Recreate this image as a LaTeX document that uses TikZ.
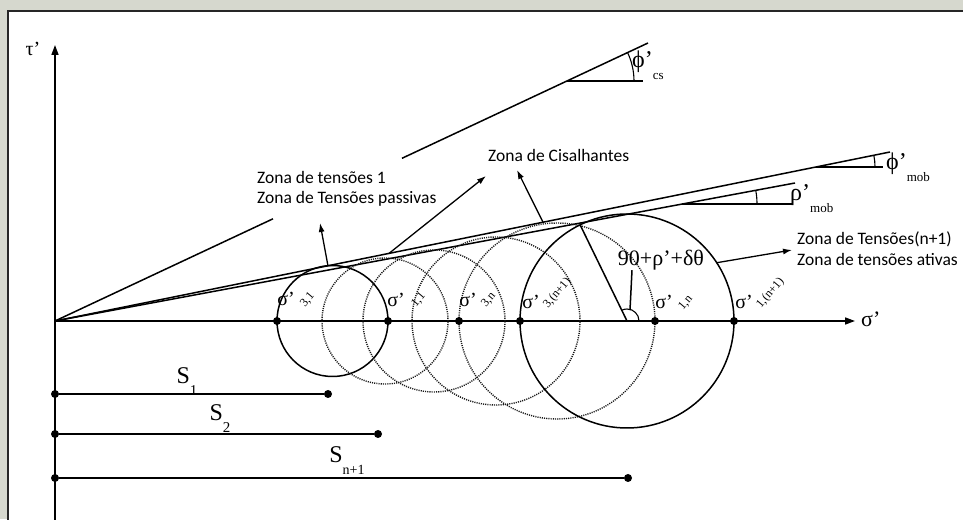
\documentclass[tikz,border=0pt]{standalone}
\usepackage{fontspec}
\setmainfont{Liberation Serif}
\newfontfamily\zonefont{Carlito}
\usetikzlibrary{arrows.meta}
\definecolor{panelgray}{RGB}{214,216,206}
\newcommand{\lowsub}[2][13]{\raisebox{-0.5em}{\fontsize{#1}{#1}\selectfont #2}}
\tikzset{
  line/.style={line width=1.5pt},
  thinline/.style={line width=1.1pt},
  dotcircle/.style={line width=1.4pt, dash pattern=on 1.1pt off 1.1pt, black!90},
  pt/.style={circle, fill=black, inner sep=0pt, minimum size=8pt},
  zone/.style={font=\zonefont\fontsize{17.5}{20.5}\selectfont, align=left, inner sep=0pt},
  greek/.style={font=\fontsize{20}{20}\selectfont, inner sep=0pt},
  big/.style={font=\fontsize{24}{24}\selectfont, inner sep=0pt},
  subr/.style={font=\fontsize{12}{12}\selectfont, inner sep=0pt, rotate=50, anchor=base west},
  zonearrow/.style={line width=1.3pt, -{Latex[length=9pt,width=6pt]}},
  axisarrow/.style={line width=1.6pt, -{Triangle[length=10pt,width=7pt]}},
}
\begin{document}
\begin{tikzpicture}[x=1pt,y=1pt]
\useasboundingbox (0,0) rectangle (963,519);
\fill[panelgray] (0,0) rectangle (963,519);
\filldraw[fill=white, draw=black!85, line width=1.3pt] (8,-10) rectangle (975,508);

% axes
\coordinate (O) at (55,198);
\coordinate (taubase) at (55,-2);
\coordinate (tauend) at (55,474);
\coordinate (sigend) at (855,198);
\draw[axisarrow] (taubase) -- (tauend);
\draw[axisarrow] (O) -- (sigend);
\node[greek] (tau) at (33,470) {τ'};
\node[greek, font=\fontsize{22}{22}\selectfont, anchor=west] (sig) at (861,200) {σ'};

% critical state line
\coordinate (csa) at (273,300.2);
\coordinate (csb) at (402,360.7);
\coordinate (cse) at (648,476);
\coordinate (csh) at (567,437.8);
\coordinate (csr) at (643,437.8);
\draw[line] (O) -- (csa);
\draw[line] (csb) -- (cse);
\draw[line] (csh) -- (csr);
\draw[thinline] ([shift={(0:67)}]csh) arc (0:25.1:67);
\node[big, anchor=base west] (phics) at (632,451) {ϕ'\lowsub{cs}};

% mobilised lines
\coordinate (mobe) at (890,367);
\coordinate (mobh) at (816,352);
\coordinate (mobr) at (883,352);
\draw[line] (O) -- (mobe);
\draw[thinline] (mobh) -- (mobr);
\draw[thinline] ([shift={(0:59)}]mobh) arc (0:11.44:59);
\node[big, anchor=base west] (phimob) at (886,349) {ϕ'\lowsub{mob}};

\coordinate (rhoe) at (795,336);
\coordinate (rhoh) at (682,315);
\coordinate (rhor) at (792,315);
\draw[line] (O) -- (rhoe);
\draw[thinline] (rhoh) -- (rhor);
\draw[thinline] ([shift={(0:75)}]rhoh) arc (0:10.56:75);
\node[big, anchor=base west] (rhomob) at (790,318) {ρ'\lowsub{mob}};

% Mohr circles
\coordinate (c1) at (332.5,198);
\coordinate (d1) at (385,198);
\coordinate (d2) at (434,198);
\coordinate (d3) at (496,198);
\coordinate (d4) at (557,198);
\coordinate (cn) at (627,198);
\draw[line] (c1) circle (55.5);
\draw[dotcircle] (d1) circle (63);
\draw[dotcircle] (d2) circle (71);
\draw[dotcircle] (d3) circle (84);
\draw[dotcircle] (d4) circle (98);
\draw[line] (cn) circle (107);

% stress points
\node[pt] (s31) at (277,198) {};
\node[pt] (s11) at (388,198) {};
\node[pt] (s3n) at (459,198) {};
\node[pt] (s3m) at (520,198) {};
\node[pt] (s1n) at (655,198) {};
\node[pt] (s1m) at (734,198) {};
\node[greek] (l31) at (286,220) {σ'};
\node[subr] at (305,211) {3,1};
\node[greek] (l11) at (396,219) {σ'};
\node[subr] at (416,211) {1,1};
\node[greek] (l3n) at (468,219) {σ'};
\node[subr] at (486,211) {3,n};
\node[greek] (l3m) at (531,217) {σ'};
\node[subr] at (548,210) {3,(n+1)};
\node[greek] (l1n) at (664,217) {σ'};
\node[subr] at (683,208) {1,n};
\node[greek] (l1m) at (744,217) {σ'};
\node[subr] at (761,210) {1,(n+1)};

% angle at the last circle
\coordinate (tang) at ([shift={(116:107)}]cn);
\draw[line] (cn) -- (tang);
\draw[thinline] ([shift={(0:12)}]cn) arc (0:116:12);
\node[greek, font=\fontsize{22}{22}\selectfont] (ang) at (661,259) {90+ρ'+δθ};
\coordinate (angfoot) at (630,209);
\draw[line] ([xshift=-29pt]ang.south) -- (angfoot);

% spacings
\node[pt] (s1a) at (55,125) {};
\node[pt] (s1b) at (328,125) {};
\draw[line] (s1a) -- (s1b);
\node[big] (ls1) at (187,137) {S\lowsub[15]{1}};
\node[pt] (s2a) at (55,85) {};
\node[pt] (s2b) at (378,85) {};
\draw[line] (s2a) -- (s2b);
\node[big] (ls2) at (220,100) {S\lowsub[15]{2}};
\node[pt] (sna) at (55,41) {};
\node[pt] (snb) at (628,41) {};
\draw[line] (sna) -- (snb);
\node[big] (lsn) at (347,58) {S\lowsub[14]{n+1}};

% zones
\node[zone, anchor=north west] (zone1) at (257,348) {Zona de tensões 1\\Zona de Tensões passivas};
\node[zone, anchor=base west] (zone2) at (488,357) {Zona de Cisalhantes};
\node[zone, anchor=north west] (zone3) at (797,287) {Zona de Tensões(n+1)\\Zona de tensões ativas};
\coordinate (a1) at (328,253);
\coordinate (a1tip) at (320,296);
\coordinate (a2) at (389,265.6);
\coordinate (a2tip) at (486,343);
\coordinate (a3) at (543,296.8);
\coordinate (a3tip) at (517,349);
\coordinate (a4) at ([shift={(33:107)}]cn);
\coordinate (a4tip) at (792,269);
\draw[zonearrow] (a1) -- (a1tip);
\draw[zonearrow] (a2) -- (a2tip);
\draw[zonearrow] (a3) -- (a3tip);
\draw[zonearrow] (a4) -- (a4tip);
\end{tikzpicture}
\end{document}
